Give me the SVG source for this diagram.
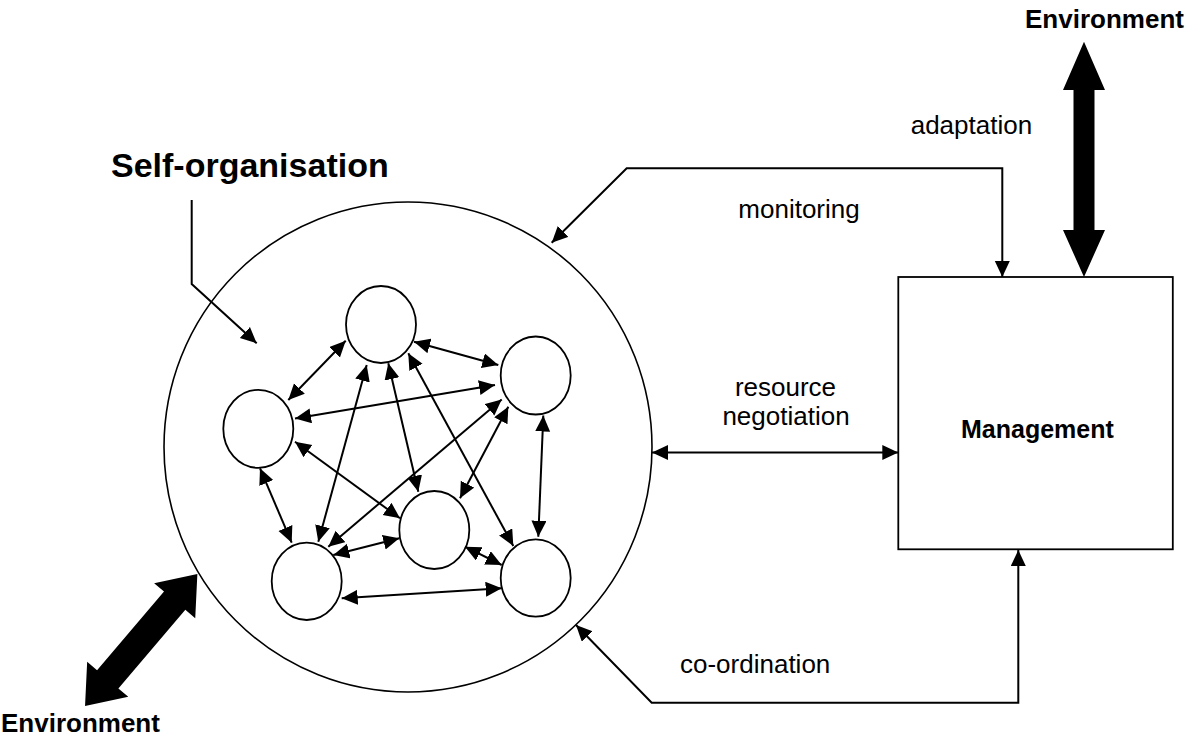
<svg xmlns="http://www.w3.org/2000/svg" width="1204" height="737" viewBox="0 0 1204 737">
<style>
  .ln{fill:none;stroke:#000;stroke-width:2}
  .nd{fill:#fff;stroke:#000;stroke-width:1.8}
  .big{fill:#fff;stroke:#000;stroke-width:1.6}
  .thick{fill:#000;stroke:none}
  .t{font-family:"Liberation Sans",Arial,sans-serif;font-size:26px;fill:#000}
  .b{font-family:"Liberation Sans",Arial,sans-serif;font-weight:bold;fill:#000}
</style>
<defs>
  <marker id="ah" markerUnits="userSpaceOnUse" markerWidth="17" markerHeight="16" refX="16" refY="7.5" orient="auto-start-reverse" viewBox="0 0 17 16">
    <path d="M0,0 L16,7.5 L0,15 z" fill="#000"/>
  </marker>
</defs>
<rect width="1204" height="737" fill="#fff"/>

<g id="self-organisation-system">
  <ellipse class="big" cx="408" cy="447" rx="244" ry="245"/>
</g>
<g id="agent-top"><ellipse class="nd" cx="381" cy="324.5" rx="35" ry="38.5"/></g>
<g id="agent-right-top"><ellipse class="nd" cx="535.7" cy="375.5" rx="35" ry="39"/></g>
<g id="agent-left"><ellipse class="nd" cx="258.3" cy="428.8" rx="35" ry="39"/></g>
<g id="agent-middle"><ellipse class="nd" cx="434.3" cy="530" rx="35" ry="39"/></g>
<g id="agent-bottom-left"><ellipse class="nd" cx="306.7" cy="581.3" rx="35" ry="38.7"/></g>
<g id="agent-bottom-right"><ellipse class="nd" cx="535.7" cy="578" rx="35" ry="38.7"/></g>

<g id="management">
  <rect class="nd" x="898.3" y="277" width="274.5" height="272.3"/>
  <text class="b" x="1037.4" y="437.5" font-size="25" text-anchor="middle">Management</text>
</g>

<g id="environment-top">
  <polygon class="thick" points="1084,41.7 1105,90 1094.5,90 1094.5,230 1105,230 1084,277 1063,230 1073.5,230 1073.5,90 1063,90"/>
  <text class="b" x="1104.5" y="28" font-size="26" text-anchor="middle">Environment</text>
</g>

<g id="environment-bottom">
  <polygon class="thick" transform="translate(141.2,640) rotate(-49.6)" points="-86.65,0 -51.65,-27 -51.65,-14 51.65,-14 51.65,-27 86.65,0 51.65,27 51.65,14 -51.65,14 -51.65,27"/>
  <text class="b" x="1" y="732" font-size="26">Environment</text>
</g>

<g id="labels">
  <text class="b" x="111" y="177" font-size="34">Self-organisation</text>
  <text class="t" x="910.7" y="134">adaptation</text>
  <text class="t" x="738.3" y="218">monitoring</text>
  <text class="t" x="785.5" y="396" text-anchor="middle">resource</text>
  <text class="t" x="786" y="425.4" text-anchor="middle">negotiation</text>
  <text class="t" x="680" y="673.3">co-ordination</text>
</g>

<g id="connectors">
  <path class="ln" d="M191.7,200 L191.7,284 L256.7,343.3" marker-end="url(#ah)"/>
  <path class="ln" d="M551.7,242.7 L626.7,168.3 L1002.3,168.3 L1002.3,277" marker-start="url(#ah)" marker-end="url(#ah)"/>
  <path class="ln" d="M576,625 L651.7,702.7 L1018.3,702.7 L1018.3,550" marker-start="url(#ah)" marker-end="url(#ah)"/>
  <path class="ln" d="M652,452.5 L898.3,452.5" marker-start="url(#ah)" marker-end="url(#ah)"/>

  <path class="ln" d="M345.7,340.7 L288.3,400" marker-start="url(#ah)" marker-end="url(#ah)"/>
  <path class="ln" d="M414,341.7 L498.3,365" marker-start="url(#ah)" marker-end="url(#ah)"/>
  <path class="ln" d="M495,385 L295,418.5" marker-start="url(#ah)" marker-end="url(#ah)"/>
  <path class="ln" d="M366.7,365 L318.3,541.7" marker-start="url(#ah)" marker-end="url(#ah)"/>
  <path class="ln" d="M388.3,363.3 L418.3,491.7" marker-start="url(#ah)" marker-end="url(#ah)"/>
  <path class="ln" d="M408.3,353.3 L513.3,546" marker-start="url(#ah)" marker-end="url(#ah)"/>
  <path class="ln" d="M501.7,399.5 L328.3,546.7" marker-start="url(#ah)" marker-end="url(#ah)"/>
  <path class="ln" d="M508.3,406.7 L460,498.3" marker-start="url(#ah)" marker-end="url(#ah)"/>
  <path class="ln" d="M543.3,415.5 L538.3,536.7" marker-start="url(#ah)" marker-end="url(#ah)"/>
  <path class="ln" d="M295,441.7 L400,518.3" marker-start="url(#ah)" marker-end="url(#ah)"/>
  <path class="ln" d="M260,468.3 L291.7,542.7" marker-start="url(#ah)" marker-end="url(#ah)"/>
  <path class="ln" d="M333.3,555 L399.3,538.3" marker-start="url(#ah)" marker-end="url(#ah)"/>
  <path class="ln" d="M465,546.7 L501.7,565" marker-start="url(#ah)" marker-end="url(#ah)"/>
  <path class="ln" d="M341.7,598.3 L501.7,588.3" marker-start="url(#ah)" marker-end="url(#ah)"/>
</g>
</svg>
